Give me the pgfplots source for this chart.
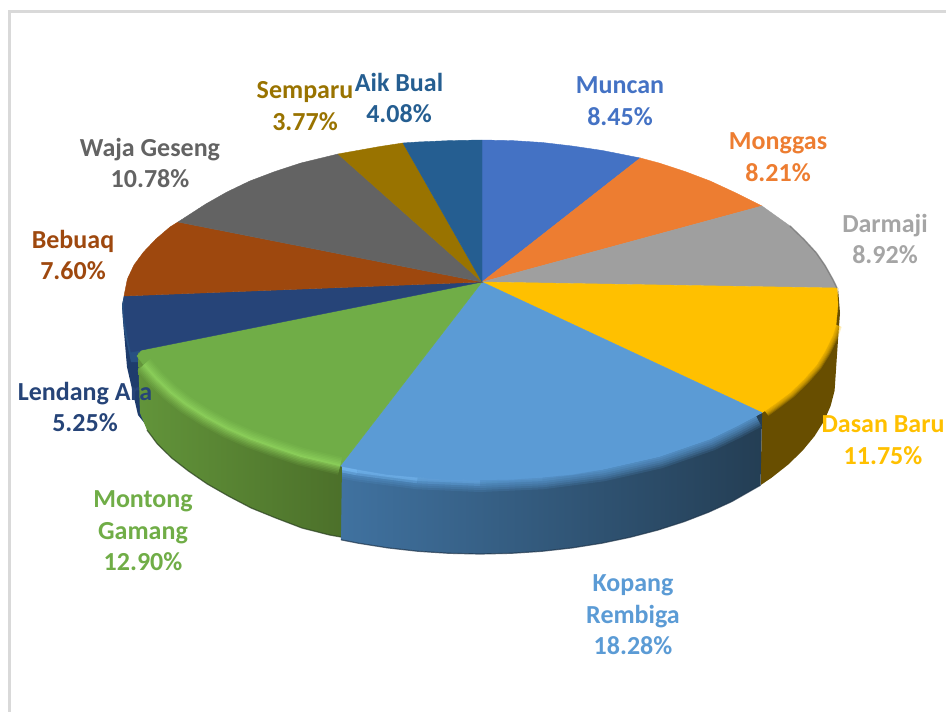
\documentclass[border=0pt]{standalone}
\usepackage{pgfplots}
\usepackage{fontspec}
\setmainfont{Carlito}
\pgfplotsset{compat=1.18}
\definecolor{cMun}{HTML}{4472C4}
\definecolor{cMon}{HTML}{ED7D31}
\definecolor{cDar}{HTML}{A5A5A5}
\definecolor{cDas}{HTML}{FFC000}
\definecolor{cKop}{HTML}{5B9BD5}
\definecolor{cMog}{HTML}{70AD47}
\definecolor{cLen}{HTML}{264478}
\definecolor{cBeb}{HTML}{9E480E}
\definecolor{cWaj}{HTML}{636363}
\definecolor{cSem}{HTML}{997300}
\definecolor{cAik}{HTML}{255E91}
\definecolor{cDarTop}{HTML}{9F9F9F}
\definecolor{cHiG}{HTML}{96DC62}
\definecolor{cHiB}{HTML}{7CC0FA}
\pgfplotstableread{
x y
342 466.4
357.6 469.4
417.8 477.3
480 480
542.2 477.3
602.4 469.4
659 456.6
710.1 439
736 426.5
756 416
}\kopangrim
\pgfplotstableread{
x y
340.1 466
301 456.6
275 448
249.9 439
227 429
205.8 417.5
186 405
170 392.5
156 379
143.6 364.9
}\montongrim
\pgfplotstableread{
x y
836 325
832.6 335.4
825 351
816.4 364.9
804 379
790 392.5
776 403
765 411
}\dasanrim
\begin{document}
\begin{tikzpicture}
\begin{axis}[width=946pt,height=712pt,scale only axis,xmin=0,xmax=946,ymin=0,ymax=712,y dir=reverse,hide axis,clip=true]
\path (axis cs:0,0) rectangle (axis cs:946,712);
% frame
\addplot[draw={rgb,255:red,217;green,217;blue,217},line width=3pt] coordinates {(9,712) (9,11) (946,11)};
% side: Lendang
\addplot[fill={rgb,255:red,30;green,60;blue,108},draw=none] coordinates {(124,296) (122,305) (122.7,317) (127,367) (138,415) (146,425) (146,350)} -- cycle;
\addplot[fill={rgb,255:red,40;green,80;blue,130},draw=none] coordinates {(124,296) (122,305) (124,330) (131,362) (146,362) (146,296)} -- cycle;
% side: Dasan
\addplot[fill={rgb,255:red,104;green,78;blue,0},draw=none] coordinates {(838,288) (840,313) (838,340) (834.6,390.6) (830.6,406) (823.9,421.3) (814.5,436.2) (802.6,450.6) (788.3,464.5) (771.6,477.7) (760.5,485.2) (762.1,412.7) (790,392.5) (816.4,364.9) (832.6,335.4)} -- cycle;
\addplot[draw=cDas,opacity=.22,line width=12pt] table {\dasanrim};
\addplot[draw=cDas,opacity=.25,line width=10pt] table {\dasanrim};
\addplot[draw=cDas,opacity=.25,line width=8pt] table {\dasanrim};
\addplot[draw=cDas,opacity=.3,line width=6pt] table {\dasanrim};
\addplot[draw=cDas,opacity=.3,line width=4pt] table {\dasanrim};
\addplot[draw=cDas,opacity=.35,line width=2pt] table {\dasanrim};
% side: Kopang
\addplot[draw=none,left color={rgb,255:red,64;green,114;blue,160},middle color={rgb,255:red,44;green,84;blue,118},right color={rgb,255:red,36;green,62;blue,84}] coordinates {(340.1,466) (357.6,469.4) (417.8,477.3) (480,480) (542.2,477.3) (602.4,469.4) (659,456.6) (710.1,439) (736,426.5) (762.1,412.7) (760.5,485.2) (731.7,501.6) (708.8,512.1) (684.2,521.6) (658,530) (630.4,537.2) (601.8,543.2) (572.1,547.9) (541.8,551.3) (511,553.3) (480,554) (449,553.3) (418.2,551.3) (387.9,547.9) (358.2,543.2) (340.9,539.8)} -- cycle;
\addplot[draw=cKop,opacity=.16,line width=24pt] table {\kopangrim};
\addplot[draw=cKop,opacity=.2,line width=20pt] table {\kopangrim};
\addplot[draw=cKop,opacity=.22,line width=16pt] table {\kopangrim};
\addplot[draw=cKop,opacity=.25,line width=12pt] table {\kopangrim};
\addplot[draw=cKop,opacity=.3,line width=8pt] table {\kopangrim};
\addplot[draw=cKop,opacity=.35,line width=4pt] table {\kopangrim};
\addplot[draw=cHiB,opacity=.35,line width=12pt] coordinates {(342,466.4) (357.6,469.4)};
\addplot[draw=cHiB,opacity=.55,line width=7pt] coordinates {(342,466.4) (357.6,469.4)};
\addplot[draw=cHiB,opacity=.25,line width=12pt] coordinates {(357.6,469.4) (417.8,477.3)};
\addplot[draw=cHiB,opacity=.4,line width=7pt] coordinates {(357.6,469.4) (417.8,477.3)};
\addplot[draw=cHiB,opacity=.12,line width=12pt] coordinates {(417.8,477.3) (480,480)};
\addplot[draw=cHiB,opacity=.2,line width=7pt] coordinates {(417.8,477.3) (480,480)};
\addplot[draw=cHiB,opacity=.08,line width=7pt] coordinates {(480,480) (542.2,477.3)};
% side: Montong
\addplot[draw=none,left color={rgb,255:red,98;green,148;blue,58},right color={rgb,255:red,76;green,112;blue,42}] coordinates {(138,352) (143.6,364.9) (170,392.5) (205.8,417.5) (249.9,439) (301,456.6) (342,466) (340.9,537) (329.6,535) (302,528) (275.8,518) (251.2,508) (228.3,496) (207.3,484) (188.4,471) (171.7,458) (157.4,444) (147,430) (140,413)} -- cycle;
% dark bottom edge
\addplot[draw={rgb,255:red,40;green,62;blue,30},opacity=.7,line width=1.2pt] coordinates {(147,430) (157.4,444) (171.7,458) (188.4,471) (207.3,484) (228.3,496) (251.2,508) (275.8,518) (302,528) (329.6,535) (340.9,537)};
\addplot[draw={rgb,255:red,30;green,52;blue,74},opacity=.7,line width=1.2pt] coordinates {(340.9,539.8) (358.2,543.2) (387.9,547.9) (418.2,551.3) (449,553.3) (480,554) (511,553.3) (541.8,551.3) (572.1,547.9) (601.8,543.2) (630.4,537.2) (658,530) (684.2,521.6) (708.8,512.1) (731.7,501.6) (760.5,485.2)};
% top surface
\addplot[fill=cMun,draw=cMun,line width=.4pt] coordinates {(482,282) (482,140) (512,140.6) (542.2,142.5) (572,146) (602.4,150.5) (640.3,158)} -- cycle;
\addplot[fill=cMon,draw=cMon,line width=.4pt] coordinates {(482,282) (640.3,158) (659,163) (685,171.5) (710.1,181) (736,193) (762,206)} -- cycle;
\addplot[fill=cDarTop,draw=cDarTop,line width=.4pt] coordinates {(482,282) (762,206) (790,226) (804,239.5) (816.4,253) (825,265.5) (832.6,279) (837,288)} -- cycle;
\addplot[fill=cDas,draw=cDas,line width=.4pt] coordinates {(482,282) (837,288) (838,305) (836,325) (832.6,335.4) (825,351) (816.4,364.9) (804,379) (790,392.5) (776,403) (762.1,412.7)} -- cycle;
\addplot[fill=cKop,draw=cKop,line width=.4pt] coordinates {(482,282) (762.1,412.7) (736,426.5) (710.1,439) (659,456.6) (602.4,469.4) (572,474.5) (542.2,477.3) (511,479.5) (480,480) (449,479.5) (417.8,477.3) (387,474.5) (357.6,469.4) (340.1,466)} -- cycle;
\addplot[fill=cMog,draw=cMog,line width=.4pt] coordinates {(482,282) (340.1,466) (301,456.6) (275,448) (249.9,439) (227,429) (205.8,417.5) (186,405) (170,392.5) (156,379) (143.6,364.9) (137,356) (142,350)} -- cycle;
\addplot[fill=cLen,draw=cLen,line width=.4pt] coordinates {(482,282) (142,350) (131,352) (127.4,335.4) (124,315) (124,296)} -- cycle;
\addplot[fill=cBeb,draw=cBeb,line width=.4pt] coordinates {(482,282) (124,296) (127.4,279) (134,265) (143.6,252) (156,239) (170,227) (178,222)} -- cycle;
\addplot[fill=cWaj,draw=cWaj,line width=.4pt] coordinates {(482,282) (178,222) (205.8,204) (227,192) (249.9,181) (275,171.5) (301,163) (338,154)} -- cycle;
\addplot[fill=cSem,draw=cSem,line width=.4pt] coordinates {(482,282) (338,154) (357.6,150.5) (380,146.5) (403,143)} -- cycle;
\addplot[fill=cAik,draw=cAik,line width=.4pt] coordinates {(482,282) (403,143) (417.8,142) (450,140.6) (482,140)} -- cycle;
% darker back edge of Darmaji
\addplot[draw={rgb,255:red,110;green,110;blue,110},opacity=.6,line width=1.5pt] coordinates {(790,226) (804,239.5) (816.4,253) (825,265.5) (832.6,279) (837,288)};
% highlight of Montong edge
\addplot[draw=cHiG,opacity=.1,line width=18pt,line cap=butt] table {\montongrim};
\addplot[draw=cHiG,opacity=.12,line width=15pt,line cap=butt] table {\montongrim};
\addplot[draw=cHiG,opacity=.14,line width=12pt,line cap=butt] table {\montongrim};
\addplot[draw=cHiG,opacity=.18,line width=9pt,line cap=butt] table {\montongrim};
\addplot[draw=cHiG,opacity=.22,line width=6pt,line cap=butt] table {\montongrim};
\addplot[draw=cHiG,opacity=.28,line width=3pt,line cap=butt] table {\montongrim};
% labels
\tikzset{lab/.style={font=\fontsize{26}{31.5}\selectfont\bfseries,align=center,inner sep=0pt}}
\node[lab,text=cMun] at (axis cs:620,101) {Muncan\\8.45\%};
\node[lab,text=cMon] at (axis cs:778,157) {Monggas\\8.21\%};
\node[lab,text=cDar] at (axis cs:885,239) {Darmaji\\8.92\%};
\node[lab,text=cDas] at (axis cs:883,440) {Dasan Baru\\11.75\%};
\node[lab,text=cKop] at (axis cs:633,615) {Kopang\\Rembiga\\18.28\%};
\node[lab,text=cMog] at (axis cs:143,531) {Montong\\Gamang\\12.90\%};
\node[lab,text=cLen] at (axis cs:85,407) {Lendang Ara\\5.25\%};
\node[lab,text=cBeb] at (axis cs:73,255) {Bebuaq\\7.60\%};
\node[lab,text=cWaj] at (axis cs:150,163) {Waja Geseng\\10.78\%};
\node[lab,text=cSem] at (axis cs:305,106) {Semparu\\3.77\%};
\node[lab,text=cAik] at (axis cs:399,98) {Aik Bual\\4.08\%};
\end{axis}
\end{tikzpicture}
\end{document}
